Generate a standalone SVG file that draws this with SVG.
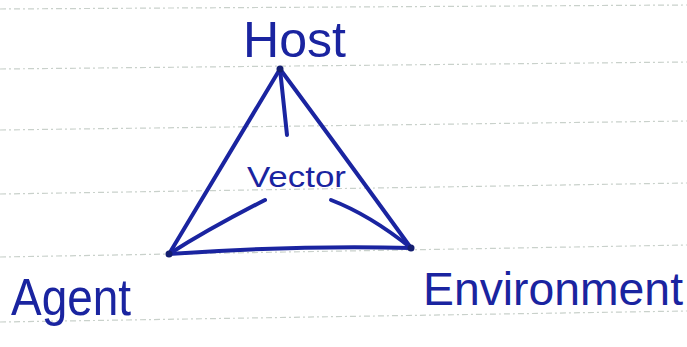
<svg xmlns="http://www.w3.org/2000/svg" width="687" height="347" viewBox="0 0 687 347">
<style>
.rule{stroke:#c9d1cb;stroke-width:1.2;stroke-dasharray:6 3 2 3;fill:none}
.pen{stroke:#1a24a0;stroke-width:4;stroke-linecap:round;stroke-linejoin:round;fill:none}
.lbl{fill:#1a24a0;font-family:"Liberation Sans",Arial,sans-serif}
</style>
<rect width="687" height="347" fill="#ffffff"/>
<g id="paper">
<path class="rule" d="M0 9 L687 5"/>
<path class="rule" d="M0 69 L687 62"/>
<path class="rule" d="M0 130 L687 121"/>
<path class="rule" d="M0 194 L687 183"/>
<path class="rule" d="M0 257 L687 245"/>
<path class="rule" d="M0 322 L687 311"/>
</g>
<g id="connectors">
<path class="pen" d="M280 69 L169 254"/>
<path class="pen" d="M280 69 Q340 150 411 248"/>
<path class="pen" d="M169 254 Q300 245 411 248"/>
<path class="pen" d="M280 69 L287 135"/>
<path class="pen" d="M265 200 Q210 228 169 254"/>
<path class="pen" d="M331 200 Q370 215 411 248"/>
<circle cx="280" cy="69" r="3.5" fill="#141e70"/>
<circle cx="169" cy="254" r="3.5" fill="#141e70"/>
<circle cx="411" cy="248" r="3.5" fill="#141e70"/>
</g>
<g id="host"><text class="lbl" x="243" y="57" font-size="50" textLength="103" lengthAdjust="spacingAndGlyphs">Host</text></g>
<g id="vector"><text class="lbl" x="247" y="187" font-size="30" textLength="99" lengthAdjust="spacingAndGlyphs">Vector</text></g>
<g id="agent"><text class="lbl" x="11" y="315" font-size="52" textLength="120" lengthAdjust="spacingAndGlyphs">Agent</text></g>
<g id="environment"><text class="lbl" x="423" y="305" font-size="46" textLength="260" lengthAdjust="spacingAndGlyphs">Environment</text></g>
</svg>
